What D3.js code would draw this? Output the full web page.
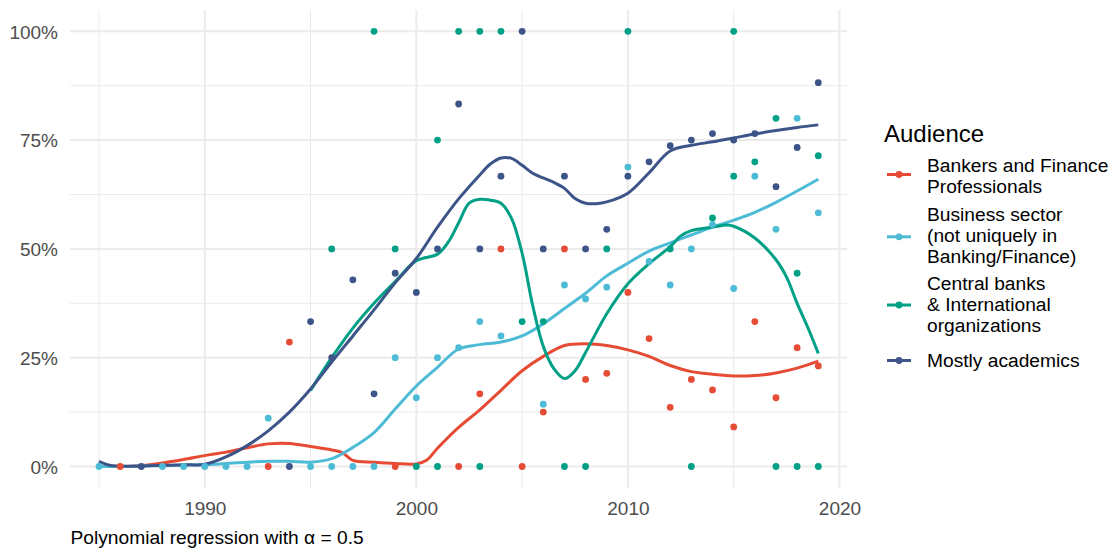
<!DOCTYPE html>
<html>
<head>
<meta charset="utf-8">
<script src="https://cdn.jsdelivr.net/npm/d3@7"></script>
<style>
  html, body { margin: 0; padding: 0; background: #fff; }
  svg { display: block; font-family: "Liberation Sans", Arial, Helvetica, sans-serif; }
</style>
</head>
<body>
<svg id="chart" width="1116" height="552"></svg>
<script>
// ---------- DATA ----------
const seriesNames = [
  "Bankers and Finance Professionals",
  "Business sector (not uniquely in Banking/Finance)",
  "Central banks & International organizations",
  "Mostly academics"
];
const legendLines = [
  ["Bankers and Finance", "Professionals"],
  ["Business sector", "(not uniquely in", "Banking/Finance)"],
  ["Central banks", "& International", "organizations"],
  ["Mostly academics"]
];
const seriesColors = ["#E64B35", "#4DBBD5", "#00A087", "#3C5488"];

const xTicks = [1990, 2000, 2010, 2020];
const xMinor = [1985, 1995, 2005, 2015];
const yTicks = [0, 25, 50, 75, 100];
const yMinor = [12.5, 37.5, 62.5, 87.5];

// observed points (percent)
const bankersYears = [1986,1993,1994,1999,2002,2003,2004,2005,2006,2007,2008,2009,2010,2011,2012,2013,2014,2015,2016,2017,2018,2019];
const bankersVals  = [0,0,28.6,0,0,16.7,50,0,12.5,50,20,21.4,40,29.4,13.6,20,17.6,9.1,33.3,15.8,27.3,23.1];

const businessYears = [1985,1988,1989,1990,1991,1992,1993,1995,1996,1997,1998,1999,2000,2001,2002,2003,2004,2006,2007,2008,2009,2010,2011,2012,2013,2014,2015,2016,2017,2018,2019];
const businessVals  = [0,0,0,0,0,0,11.1,0,0,0,0,25,15.8,25,27.3,33.3,30,14.3,41.7,38.5,41.2,68.8,47.1,41.7,50,55.6,40.9,66.7,54.5,80,58.3];

const centralYears = [1996,1998,1999,2000,2001,2001,2002,2003,2003,2004,2005,2006,2007,2008,2009,2010,2012,2013,2014,2015,2015,2016,2017,2017,2018,2018,2019,2019];
const centralVals  = [50,100,50,0,75,0,100,100,0,100,33.3,33.3,0,0,50,100,50,0,57.1,100,66.7,70,80,0,44.4,0,71.4,0];

const academicYears = [1987,1994,1995,1996,1997,1998,1999,2000,2001,2002,2003,2004,2005,2006,2007,2008,2009,2010,2011,2012,2013,2014,2015,2016,2017,2018,2019];
const academicVals  = [0,0,33.3,25,42.9,16.7,44.4,40,50,83.3,50,66.7,100,50,66.7,50,54.5,66.7,70,73.7,75,76.5,75,76.5,64.3,73.3,88.2];

// smoothed (loess) curves
const bankersFitYears = [1986,1987,1988,1989,1990,1991,1992,1993,1994,1995,1996,1996.5,1997,1998,1999,2000,2000.5,2001,2002,2003,2004,2005,2006,2007,2008,2009,2010,2011,2012,2013,2014,2015,2016,2017,2018,2019];
const bankersFitVals  = [0,0.2,0.8,1.6,2.5,3.3,4.3,5.2,5.3,4.6,3.8,3.2,1.4,1.0,0.7,0.6,1.5,4.2,9,13,17.5,22,25.3,27.8,28.2,27.8,26.8,25.3,23.2,21.8,21.2,20.8,20.9,21.5,22.6,24.2];

const businessFitYears = [1985,1986,1987,1988,1989,1990,1991,1992,1993,1994,1995,1996,1997,1998,1999,2000,2001,2002,2003,2004,2005,2006,2007,2008,2009,2010,2011,2012,2013,2014,2015,2016,2017,2018,2019];
const businessFitVals  = [0,0,0.1,0.2,0.3,0.4,0.7,1.0,1.2,1.2,1.0,1.8,4.4,7.8,13.2,18.5,22.8,27,28,28.6,30,32.8,36.3,39.8,43.8,46.7,49.5,51.4,53.2,55,56.6,58.4,60.7,63.3,66];

const centralFitYears = [1995,1996,1997,1998,1999,2000,2001,2001.5,2002,2002.5,2003,2003.5,2004,2004.5,2005,2005.5,2006,2006.5,2007,2007.5,2008,2009,2010,2011,2012,2012.5,2013,2014,2014.7,2015,2016,2017,2017.5,2018,2018.5,2019];
const centralFitVals  = [17.5,25,31.8,37.5,42.5,47.3,48.8,51.5,56,60.5,61.4,61.2,60.5,57,49,37,27.6,22.5,20.2,22,26.2,35.1,42,46.6,50.5,53,54.2,55,55.5,55.2,52.5,47.5,43.5,37.5,32,26];

const academicFitYears = [1985,1985.5,1986,1987,1988,1989,1990,1991,1992,1993,1994,1995,1996,1997,1998,1999,2000,2001,2002,2003,2003.5,2004,2004.5,2005,2005.5,2006,2006.5,2007,2007.5,2008,2008.5,2009,2010,2011,2012,2013,2014,2015,2016,2017,2018,2019];
const academicFitVals  = [1.2,0.3,0.1,0.1,0.3,0.4,0.5,2.2,4.8,8.2,12.5,17.8,24,30,36,42.2,47.8,55,61.5,67,69.5,70.9,70.8,69.2,67.4,66.3,65.3,63.9,61.6,60.5,60.4,60.8,62.8,67.5,72.5,73.8,74.6,75.5,76.4,77.2,77.9,78.5];

const captionText = "Polynomial regression with \u03B1 = 0.5";
const legendTitle = "Audience";

// ---------- BUILD ----------
const pointSets = [
  [bankersYears, bankersVals], [businessYears, businessVals],
  [centralYears, centralVals], [academicYears, academicVals]
];
const fitSets = [
  [bankersFitYears, bankersFitVals], [businessFitYears, businessFitVals],
  [centralFitYears, centralFitVals], [academicFitYears, academicFitVals]
];

const svg = d3.select("#chart");
const panel = { left: 70, right: 847, top: 10, bottom: 488 };

const x = d3.scaleLinear().domain([1985, 2019]).range([99, 818.3]);
const y = d3.scaleLinear().domain([0, 100]).range([466.5, 31.3]);

const grid = svg.append("g");
// minor grid
grid.selectAll(".xm").data(xMinor).join("line")
  .attr("x1", d => x(d)).attr("x2", d => x(d))
  .attr("y1", panel.top).attr("y2", panel.bottom)
  .attr("stroke", "#EBEBEB").attr("stroke-width", 1);
grid.selectAll(".ym").data(yMinor).join("line")
  .attr("y1", d => y(d)).attr("y2", d => y(d))
  .attr("x1", panel.left).attr("x2", panel.right)
  .attr("stroke", "#EBEBEB").attr("stroke-width", 1);
// major grid
grid.selectAll(".xM").data(xTicks).join("line")
  .attr("x1", d => x(d)).attr("x2", d => x(d))
  .attr("y1", panel.top).attr("y2", panel.bottom)
  .attr("stroke", "#EBEBEB").attr("stroke-width", 2);
grid.selectAll(".yM").data(yTicks).join("line")
  .attr("y1", d => y(d)).attr("y2", d => y(d))
  .attr("x1", panel.left).attr("x2", panel.right)
  .attr("stroke", "#EBEBEB").attr("stroke-width", 2);

// axes (text only, theme_minimal)
const xAxis = d3.axisBottom(x).tickValues(xTicks).tickFormat(d3.format("d")).tickSize(0).tickPadding(0);
const gx = svg.append("g").attr("transform", `translate(0,${panel.bottom})`).call(xAxis);
gx.select(".domain").remove();
gx.selectAll("text").attr("dy", null).attr("y", 27)
  .attr("font-size", "19px").attr("fill", "#4D4D4D")
  .attr("font-family", "'Liberation Sans', Arial, sans-serif");

const yAxis = d3.axisLeft(y).tickValues(yTicks).tickFormat(d => d + "%").tickSize(0).tickPadding(0);
const gy = svg.append("g").attr("transform", `translate(58,0)`).call(yAxis);
gy.select(".domain").remove();
gy.selectAll("text").attr("x", 0).attr("dy", "0.36em")
  .attr("font-size", "19px").attr("fill", "#4D4D4D")
  .attr("font-family", "'Liberation Sans', Arial, sans-serif");

// smoothed lines
const line = d3.line().x(d => x(d[0])).y(d => y(d[1])).curve(d3.curveCatmullRom.alpha(0.5));
fitSets.forEach((s, i) => {
  const pts = s[0].map((yr, k) => [yr, s[1][k]]);
  svg.append("path").datum(pts)
    .attr("d", line).attr("fill", "none")
    .attr("stroke", seriesColors[i]).attr("stroke-width", 3)
    .attr("stroke-linejoin", "round").attr("stroke-linecap", "butt");
});

// points
pointSets.forEach((s, i) => {
  const pts = s[0].map((yr, k) => [yr, s[1][k]]);
  svg.append("g").selectAll("circle").data(pts).join("circle")
    .attr("cx", d => x(d[0])).attr("cy", d => y(d[1])).attr("r", 3.4)
    .attr("fill", seriesColors[i]);
});

// legend
const lg = svg.append("g");
lg.append("text").attr("x", 884).attr("y", 141.5).attr("font-size", "24px")
  .attr("fill", "#000").text(legendTitle);
const keyY = [174.5, 236.8, 305, 360.5];
const textBase = [[171.5, 192.5], [220.5, 241.5, 262.5], [290, 311, 332], [367.3]];
seriesNames.forEach((nm, i) => {
  lg.append("line").attr("x1", 887).attr("x2", 911).attr("y1", keyY[i]).attr("y2", keyY[i])
    .attr("stroke", seriesColors[i]).attr("stroke-width", 3);
  lg.append("circle").attr("cx", 899).attr("cy", keyY[i]).attr("r", 3.4).attr("fill", seriesColors[i]);
  legendLines[i].forEach((t, j) => {
    lg.append("text").attr("x", 927).attr("y", textBase[i][j]).attr("font-size", "19.2px")
      .attr("fill", "#000").text(t);
  });
});

// caption
svg.append("text").attr("x", 70.5).attr("y", 544).attr("font-size", "19.2px")
  .attr("fill", "#000").text(captionText);
</script>
</body>
</html>
